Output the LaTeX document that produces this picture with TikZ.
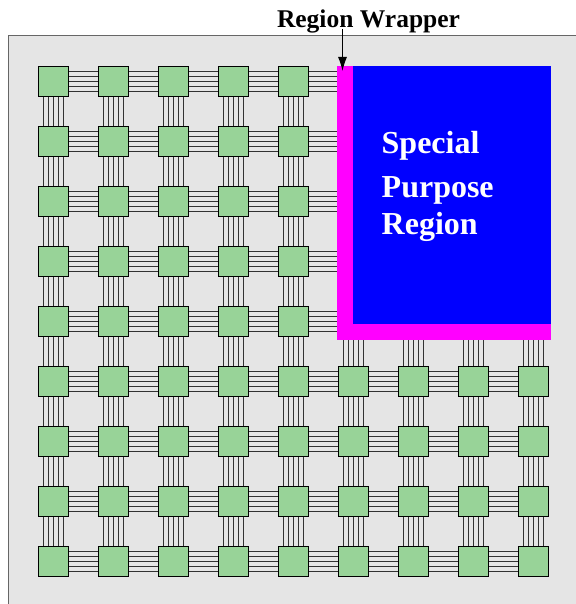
\documentclass[tikz,border=0pt]{standalone}
\usepackage{fontspec}
\setmainfont{Liberation Serif}
\usetikzlibrary{calc,arrows.meta}
\definecolor{bggray}{RGB}{229,229,229}
\definecolor{sqgreen}{RGB}{152,211,152}
\definecolor{wrapmag}{RGB}{255,0,255}
\definecolor{regblue}{RGB}{0,0,255}
\definecolor{linkgray}{RGB}{50,50,50}
\begin{document}
\begin{tikzpicture}[x=1pt,y=-1pt,
  tile/.style={draw=black,fill=sqgreen,line width=1pt,minimum width=30pt,minimum height=30pt,inner sep=0pt,outer sep=0pt},
  link/.style={draw=linkgray,line width=1.1pt},
  regtext/.style={text=white,font=\bfseries\fontsize{32}{36}\selectfont,anchor=base west,inner sep=0pt}]
\useasboundingbox (0,0) rectangle (575,604);
% background panel
\draw[fill=bggray,draw=gray!80!black,line width=1pt] (8,36) rectangle (590,620);
% tiles
\foreach \i in {0,...,8}{
  \foreach \j in {0,...,8}{
    \pgfmathtruncatemacro{\inreg}{(\i>4)&&(\j<5)}
    \ifnum\inreg=0
      \node[tile] (s-\i-\j) at (53.5+60*\i,81.5+60*\j) {};
    \fi
  }
}
% region wrapper and special purpose region
\node[fill=wrapmag,minimum width=214pt,minimum height=274pt,inner sep=0pt,outer sep=0pt] (wrap) at (444,203) {};
\node[fill=regblue,minimum width=198pt,minimum height=258pt,inner sep=0pt,outer sep=0pt] (spr) at (452,195) {};
% horizontal links
\foreach \i [evaluate=\i as \k using int(\i+1)] in {0,...,7}{
  \foreach \j in {0,...,8}{
    \pgfmathtruncatemacro{\a}{(\i>4)&&(\j<5)}
    \pgfmathtruncatemacro{\b}{(\k>4)&&(\j<5)}
    \ifnum\a=0 \ifnum\b=0
      \foreach \d in {-10,-5,0,5,10}
        \draw[link] ($(s-\i-\j.east)+(0,\d)$) -- ($(s-\k-\j.west)+(0,\d)$);
    \fi \fi
  }
}
% links from column 4 into the wrapper
\foreach \j in {0,...,4}{
  \foreach \d in {-10,-5,0,5,10}
    \draw[link] ($(s-4-\j.east)+(0,\d)$) -- ($(s-4-\j.east -| wrap.west)+(0,\d)$);
}
% vertical links
\foreach \i in {0,...,8}{
  \foreach \j [evaluate=\j as \k using int(\j+1)] in {0,...,7}{
    \pgfmathtruncatemacro{\a}{(\i>4)&&(\j<5)}
    \pgfmathtruncatemacro{\b}{(\i>4)&&(\k<5)}
    \ifnum\b=0
      \ifnum\a=0
        \foreach \d in {-10,-5,0,5,10}
          \draw[link] ($(s-\i-\j.south)+(\d,0)$) -- ($(s-\i-\k.north)+(\d,0)$);
      \else
        \foreach \d in {-10,-5,0,5,10}
          \draw[link] ($(s-\i-\k.north |- wrap.south)+(\d,0)$) -- ($(s-\i-\k.north)+(\d,0)$);
      \fi
    \fi
  }
}
% redraw tiles on top of links
\foreach \i in {0,...,8}{
  \foreach \j in {0,...,8}{
    \pgfmathtruncatemacro{\inreg}{(\i>4)&&(\j<5)}
    \ifnum\inreg=0
      \draw[draw=black,fill=sqgreen,line width=1pt] (s-\i-\j.south west) rectangle (s-\i-\j.north east);
    \fi
  }
}
% texts
\node[regtext] (t1) at (381.5,153.5) {Special};
\node[regtext] (t2) at (381.5,197.5) {Purpose};
\node[regtext] (t3) at (381.5,234.5) {Region};
\node[font=\bfseries\fontsize{25.5}{28}\selectfont,anchor=base,inner sep=0pt] (lbl) at (368.5,27.3) {Region Wrapper};
\coordinate (arrS) at (342.5,29);
\coordinate (arrE) at (342.5,71);
\draw[line width=1pt,-{Latex[length=14pt,width=9pt]}] (arrS) -- (arrE);
\end{tikzpicture}
\end{document}
